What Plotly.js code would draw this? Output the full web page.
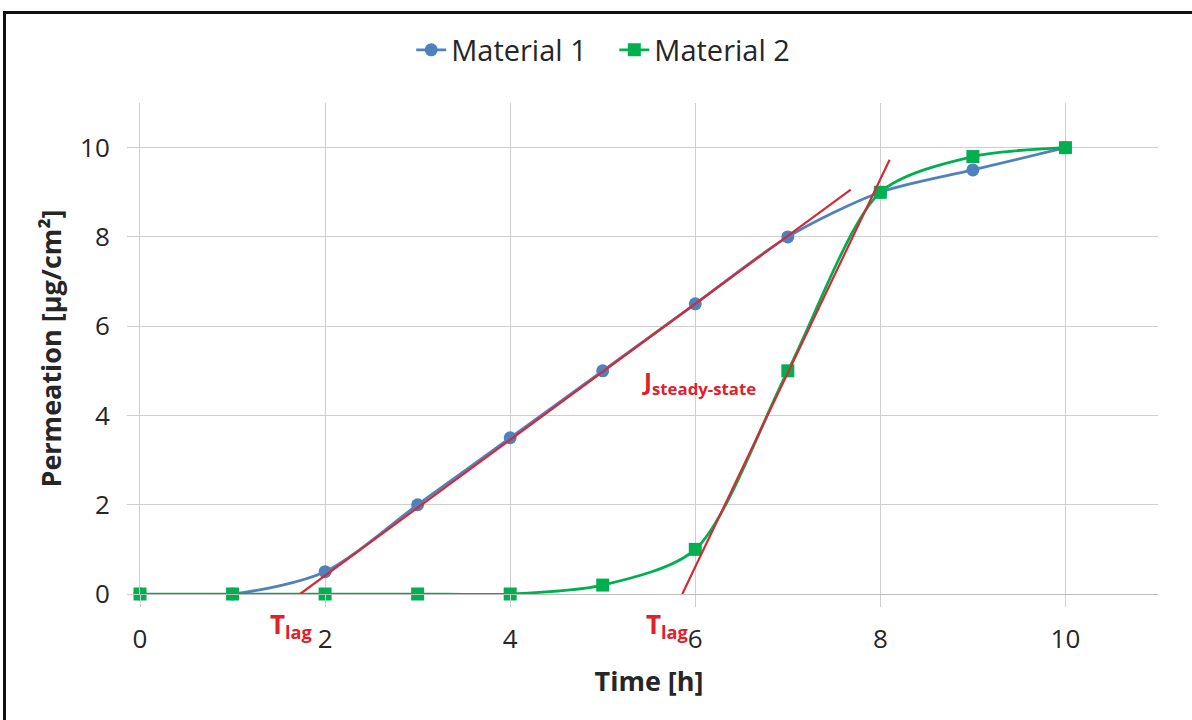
<!DOCTYPE html>
<html>
<head>
<meta charset="utf-8">
<script src="https://cdn.plot.ly/plotly-3.0.1.min.js"></script>
<style>
  html, body { margin: 0; padding: 0; background: #fff; }
  #frame { position: absolute; left: 3px; top: 11px; width: 1300px; height: 800px; border-left: 3px solid #111; border-top: 3px solid #111; pointer-events: none; }
  #chart { position: absolute; left: 0; top: 0; width: 1192px; height: 720px; }
</style>
</head>
<body>
<div id="chart"></div>
<div id="frame"></div>
<script>
// Data
const timeH = [0, 1, 2, 3, 4, 5, 6, 7, 8, 9, 10];
const material1 = [0, 0, 0.5, 2, 3.5, 5, 6.5, 8, 9, 9.5, 10];
const material2 = [0, 0, 0, 0, 0, 0.2, 1, 5, 9, 9.8, 10];
// Tangent (steady-state) lines, endpoints
const tangent1X = [1.73, 7.68];
const tangent1Y = [0, 9.06];
const tangent2X = [5.86, 8.10];
const tangent2Y = [0, 9.73];
const xTicks = [0, 2, 4, 6, 8, 10];
const yTicks = [0, 2, 4, 6, 8, 10];

const FONT = '"Open Sans", "DejaVu Sans", sans-serif';
const RED = '#D42A36';

const traces = [
  {
    x: timeH, y: material1, name: 'Material 1\u00a0\u00a0\u00a0', type: 'scatter', mode: 'lines+markers',
    line: { color: '#4F81BD', width: 2.75, shape: 'spline', smoothing: 0.8 },
    marker: { color: '#4F81BD', size: 13, symbol: 'circle' }, cliponaxis: false
  },
  {
    x: timeH, y: material2, name: 'Material 2', type: 'scatter', mode: 'lines+markers',
    line: { color: '#00B050', width: 2.75, shape: 'spline', smoothing: 0.8 },
    marker: { color: '#00B050', size: 13, symbol: 'square' }, cliponaxis: false
  },
  {
    x: tangent1X, y: tangent1Y, type: 'scatter', mode: 'lines', showlegend: false,
    line: { color: RED, width: 2.2 }, hoverinfo: 'skip'
  },
  {
    x: tangent2X, y: tangent2Y, type: 'scatter', mode: 'lines', showlegend: false,
    line: { color: RED, width: 2.2 }, hoverinfo: 'skip'
  }
];

const annText = [
  { x: 1.64, yref: 'paper', y: -0.063, text: '<b>T<sub>lag</sub></b>', size: 26 },
  { x: 5.70, yref: 'paper', y: -0.063, text: '<b>T<sub>lag</sub></b>', size: 26 },
  { x: 6.04, yref: 'y', y: 4.75, text: '<b>J<sub>steady-state</sub></b>', size: 24 }
];

const layout = {
  width: 1192, height: 720,
  margin: { l: 140, r: 34, t: 103, b: 126 },
  paper_bgcolor: '#ffffff', plot_bgcolor: '#ffffff',
  font: { family: FONT, color: '#262626' },
  showlegend: true,
  legend: {
    orientation: 'h', x: 0.455, xanchor: 'center', y: 1.108, yanchor: 'middle',
    font: { family: FONT, size: 29, color: '#262626' },
    itemwidth: 30, tracegroupgap: 0
  },
  xaxis: {
    range: [0, 11], tickvals: xTicks, ticktext: xTicks.map(String),
    showgrid: true, gridcolor: '#CFCFCF', gridwidth: 1,
    showline: true, linecolor: '#BDBDBD', linewidth: 1,
    zeroline: false,
    ticks: 'outside', ticklen: 12, tickcolor: '#CFCFCF', tickwidth: 1,
    ticklabelstandoff: 10,
    tickfont: { family: FONT, size: 26, color: '#262626' },
    title: { text: '<b>Time [h]</b>', font: { family: FONT, size: 27, color: '#262626' }, standoff: 16 }
  },
  yaxis: {
    range: [0, 11], tickvals: yTicks, ticktext: yTicks.map(String),
    showgrid: true, gridcolor: '#CFCFCF', gridwidth: 1,
    showline: true, linecolor: '#CFCFCF', linewidth: 1,
    zeroline: false,
    ticks: 'outside', ticklen: 12, tickcolor: '#CFCFCF', tickwidth: 1,
    ticklabelstandoff: 12,
    tickfont: { family: FONT, size: 26, color: '#262626' },
    title: { text: '<b>Permeation [µg/cm²]</b>', font: { family: FONT, size: 27, color: '#262626' }, standoff: 10 }
  },
  annotations: annText.map(a => ({
    x: a.x, y: a.y, xref: 'x', yref: a.yref, text: a.text, showarrow: false,
    xanchor: 'center', yanchor: 'middle',
    font: { family: FONT, size: a.size, color: '#E0202C' }
  }))
};

Plotly.newPlot('chart', traces, layout, { displayModeBar: false, staticPlot: true });
</script>
</body>
</html>
